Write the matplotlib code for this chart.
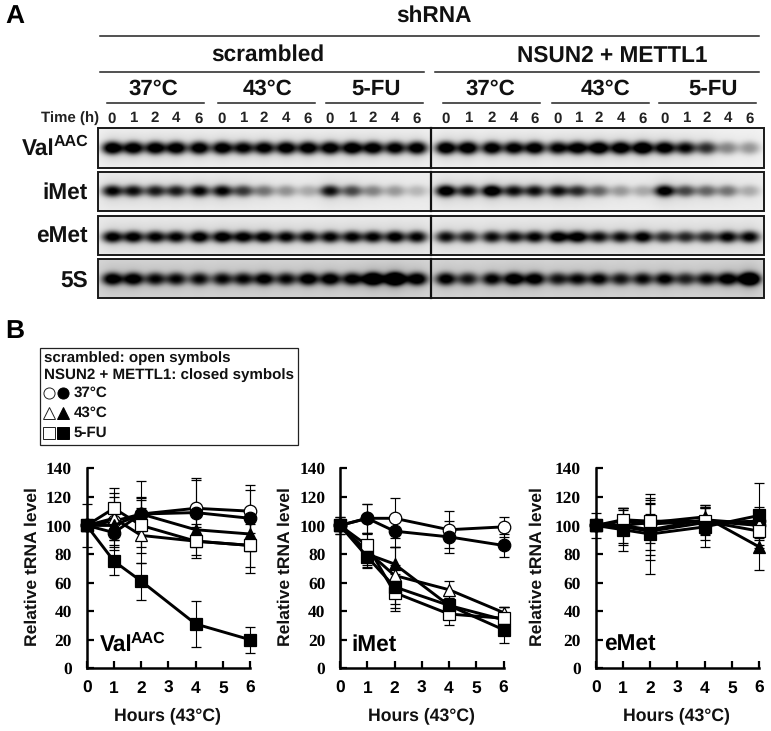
import numpy as np
import matplotlib
matplotlib.use("Agg")
import matplotlib.pyplot as plt
from matplotlib.patches import Rectangle

plt.rcParams['font.family'] = ['Liberation Sans', 'DejaVu Sans']
plt.rcParams['font.weight'] = 'bold'
plt.rcParams['text.hinting'] = 'none'

# panel B data
hours = [0, 1, 2, 4, 6]
val_means = {
    'oc': [100, 103, 108, 112, 110],
    'cc': [100, 95, 108, 109, 105],
    'ot': [100, 105, 93, 89, 86],
    'ct': [100, 100, 108, 97, 94],
    'os': [100, 112, 100, 89, 86],
    'cs': [100, 75, 61, 31, 20],
}
val_errs = {
    'oc': [0, 20, 23, 21, 15],
    'cc': [0, 9, 10, 23, 23],
    'ot': [15, 15, 19, 10, 15],
    'ct': [0, 10, 12, 10, 10],
    'os': [0, 14, 19, 12, 19],
    'cs': [0, 10, 13, 16, 9],
}
imet_means = {
    'oc': [100, 105, 105, 97, 99],
    'cc': [100, 105, 96, 92, 86],
    'ot': [100, 82, 65, 55, 39],
    'ct': [100, 80, 73, 44, 34],
    'os': [100, 86, 53, 38, 35],
    'cs': [100, 78, 57, 44, 27],
}
imet_errs = {
    'oc': [6, 10, 14, 13, 7],
    'cc': [6, 10, 11, 11, 8],
    'ot': [0, 12, 20, 6, 4],
    'ct': [0, 8, 12, 8, 9],
    'os': [0, 9, 13, 8, 8],
    'cs': [0, 7, 15, 5, 9],
}
emet_means = {
    'oc': [100, 103, 101, 103, 100],
    'cc': [100, 99, 96, 102, 103],
    'ot': [100, 100, 97, 104, 101],
    'ct': [100, 100, 102, 106, 85],
    'os': [100, 104, 103, 103, 96],
    'cs': [100, 97, 94, 99, 107],
}
emet_errs = {
    'oc': [9, 8, 18, 10, 10],
    'cc': [0, 13, 20, 12, 10],
    'ot': [0, 12, 18, 8, 10],
    'ct': [0, 6, 6, 8, 16],
    'os': [0, 8, 15, 9, 10],
    'cs': [0, 15, 28, 14, 23],
}

# panel A band darkness, lanes left to right
val_bands = [1.0, .95, .95, .95, .95, .95, .85, .9, .95, .95, .95, 1.0, .95, .9, .95,
             1.0, 1.0, .95, .9, .95, .85, .95, 1.05, 1.0, 1.1, .95, .8, .65, .35, .3]
imet_bands = [.8, .75, .7, .7, .8, .8, .6, .4, .3, .22, .75, .55, .35, .28, .18,
              .95, .75, 1.0, .75, .75, .75, .65, .45, .28, .22, .9, .55, .45, .4, .22]
emet_bands = [.85, .85, .8, .8, .9, .9, .85, .85, .8, .8, .8, .8, .8, .85, .8,
              .75, .7, .75, .75, .8, .9, .9, .75, .75, .85, .65, .65, .65, .8, .8]
fives_bands = [.85, .85, .7, .7, .7, .7, .7, .8, .7, .85, .85, .8, 1.2, 1.4, .9,
               .8, .65, .75, .9, .85, .65, .7, .75, .65, .7, .75, .6, .7, .85, 1.3]
lane_labels = ['0', '1', '2', '4', '6'] * 6

styles = {
    'oc': ('o', 'white'),
    'cc': ('o', 'black'),
    'ot': ('^', 'white'),
    'ct': ('^', 'black'),
    'os': ('s', 'white'),
    'cs': ('s', 'black'),
}

fig = plt.figure(figsize=(7.71, 7.31), dpi=100)

# one full size axes in pixel units for the blots and all the labels
page = fig.add_axes([0, 0, 1, 1])
page.set_xlim(0, 771)
page.set_ylim(731, 0)
page.axis('off')

lane_x = [112, 133, 155, 176, 199, 222, 243, 264, 286, 308, 330, 352, 373, 395, 417,
          446, 468, 492, 514, 535, 558, 578, 599, 621, 643, 665, 686, 707, 728, 750]

page.text(5, 16, 'A', fontsize=19, va='center')
page.text(5, 331, 'B', fontsize=19, va='center')
page.text(434, 16, 'shRNA', fontsize=16.3, ha='center', va='center', color='#111111')
page.text(268, 55, 'scrambled', fontsize=16.3, ha='center', va='center', color='#111111')
page.text(612, 56, 'NSUN2 + METTL1', fontsize=16.3, ha='center', va='center', color='#111111')
page.plot([100, 759], [36, 36], color='#222222', lw=1.1)
page.plot([100, 424], [72, 72], color='#222222', lw=1.1)
page.plot([435, 759], [72, 72], color='#222222', lw=1.1)

for name, cx, x0, x1 in [('37°C', 153, 107, 204), ('43°C', 268, 218, 315), ('5-FU', 376, 326, 423),
                         ('37°C', 490, 443, 540), ('43°C', 606, 552, 649), ('5-FU', 713, 659, 756)]:
    page.text(cx, 89, name, fontsize=16, ha='center', va='center', color='#111111')
    page.plot([x0, x1], [103, 103], color='#222222', lw=1.1)

page.text(99, 118, 'Time (h)', fontsize=10.8, ha='right', va='center', color='#222222')
for x, lab in zip(lane_x, lane_labels):
    page.text(x, 118.5, lab, fontsize=10.8, ha='center', va='center', color='#222222')

# blot rows: top, bottom, band centre, background, band half sizes
rows = [
    (val_bands, 128, 168, 148, 0.05, 10.5, 6.5),
    (imet_bands, 172, 211, 191, 0.07, 10.5, 6.0),
    (emet_bands, 216, 255, 237, 0.08, 10.5, 6.0),
    (fives_bands, 259, 298, 279, 0.16, 10.5, 6.5),
]
xx = np.arange(98, 765)
for bands, top, bottom, yc, bg, wx, wy in rows:
    yy = np.arange(top, bottom + 1)
    gx, gy = np.meshgrid(xx, yy)
    dark = np.full(gx.shape, bg, dtype=float)
    for x, d in zip(lane_x, bands):
        r2 = ((gx - x) / wx) ** 2 + ((gy - yc) / wy) ** 2
        dark += 1.05 * d * np.exp(-r2 ** 1.3)
        dark += 0.14 * d * np.exp(-((gx - x) / (wx * 1.2)) ** 2 - ((gy - yc) / (wy * 2.2)) ** 2)
    img = np.clip(1 - dark, 0, 1)
    page.imshow(img, cmap='gray', vmin=0, vmax=1, extent=(98, 764, bottom, top),
                aspect='auto', interpolation='bilinear', zorder=1)
    page.add_patch(Rectangle((98, top), 666, bottom - top, fill=False, ec='#1a1a1a', lw=1.4, zorder=2))
    page.plot([431, 431], [top, bottom], color='#111111', lw=1.6, zorder=2)
page.set_xlim(0, 771)
page.set_ylim(731, 0)

page.text(22, 149, 'Val', fontsize=16.3, va='center', color='#111111')
page.text(54, 142, 'AAC', fontsize=11.5, va='center', color='#111111')
page.text(88, 193, 'iMet', fontsize=16.3, ha='right', va='center', color='#111111')
page.text(88, 237, 'eMet', fontsize=16.3, ha='right', va='center', color='#111111')
page.text(88, 281, '5S', fontsize=16.3, ha='right', va='center', color='#111111')

# legend box
page.add_patch(Rectangle((39.5, 348), 258.5, 97, fill=False, ec='#222222', lw=0.9))
page.text(44, 358, 'scrambled: open symbols', fontsize=10.9, va='center', color='#111111')
page.text(44, 375.5, 'NSUN2 + METTL1: closed symbols', fontsize=10.9, va='center', color='#111111')
for y, mk, lab in [(393, 'o', '37°C'), (413, '^', '43°C'), (433, 's', '5-FU')]:
    page.plot([49], [y], marker=mk, ms=8, mfc='white', mec='#222222', mew=0.7, ls='none')
    page.plot([63], [y], marker=mk, ms=8, mfc='black', mec='black', mew=0.7, ls='none')
    page.text(73.5, y, lab, fontsize=10.9, va='center', color='#111111')

# line charts
charts = [
    (86.7, val_means, val_errs, 32),
    (340, imet_means, imet_errs, 285),
    (595.7, emet_means, emet_errs, 537),
]
for left, means, errs, label_x in charts:
    ax = fig.add_axes([left / 771, 1 - 668.3 / 731, 163.5 / 771, 200 / 731])
    for key in ['oc', 'cc', 'ot', 'ct', 'os', 'cs']:
        mk, face = styles[key]
        ax.errorbar(hours, means[key], yerr=errs[key], color='black', lw=2.1, elinewidth=0.8,
                    capsize=3.5, capthick=0.8, marker=mk, ms=9, mfc=face, mec='black', mew=0.9,
                    clip_on=False)
    ax.set_xlim(0, 6)
    ax.set_ylim(0, 140)
    ax.set_xticks(range(7))
    ax.set_yticks(range(0, 141, 20))
    ax.tick_params(axis='both', direction='in', length=5, width=1.6)
    ax.tick_params(axis='x', labelsize=12.5, pad=9)
    ax.tick_params(axis='y', labelsize=12.5, pad=10.5)
    for lab in ax.get_yticklabels():
        lab.set_family('Liberation Serif')
        lab.set_weight('bold')
    for side in ['top', 'right']:
        ax.spines[side].set_visible(False)
    ax.spines['left'].set_linewidth(1.8)
    ax.spines['bottom'].set_linewidth(1.8)
    ax.patch.set_alpha(0)
    page.text(label_x, 567, 'Relative tRNA level', fontsize=12.6, rotation=90, ha='center', va='center',
              color='#111111')
    page.text(left + 81, 716, 'Hours (43°C)', fontsize=12.7, ha='center', va='center', color='#111111')

page.text(100, 645, 'Val', fontsize=16.3, va='center')
page.text(131, 639, 'AAC', fontsize=11.5, va='center')
page.text(351, 645, 'iMet', fontsize=16.3, va='center')
page.text(604, 645, 'eMet', fontsize=16.3, va='center')

fig.savefig('out.png', dpi=100)
